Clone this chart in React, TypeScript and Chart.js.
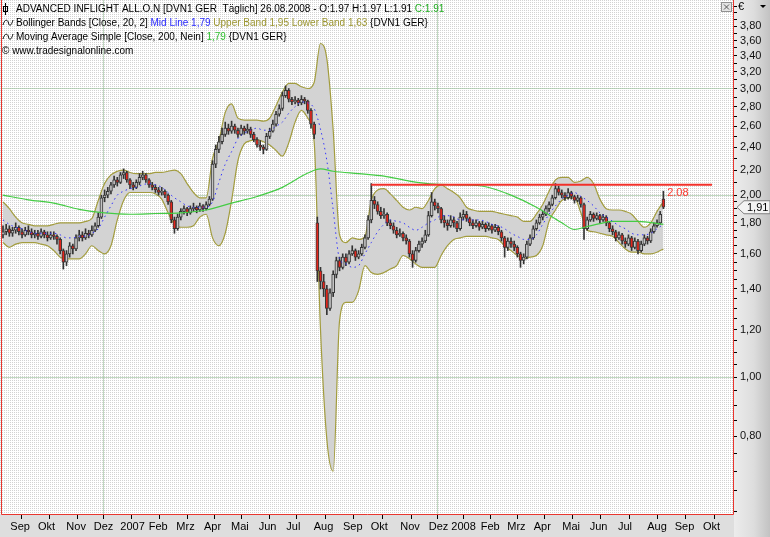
import React, { useEffect, useRef } from 'react';
import { Chart, registerables } from 'chart.js';

Chart.register(...registerables);

// ---------- DATA ----------
// Candles: two per week, x position in weeks since 28.08.2006 = index * 0.5
const candleOpen = [
  1.72, 1.74, 1.76, 1.73, 1.75, 1.77, 1.74, 1.72, 1.75, 1.74,
  1.72, 1.73, 1.71, 1.74, 1.72, 1.70, 1.72, 1.71, 1.69, 1.62,
  1.55, 1.60, 1.65, 1.63, 1.70, 1.72, 1.70, 1.73, 1.72, 1.75,
  1.78, 1.84, 1.98, 2.00, 2.03, 2.08, 2.12, 2.10, 2.16, 2.18,
  2.12, 2.08, 2.06, 2.10, 2.14, 2.16, 2.12, 2.08, 2.06, 2.04,
  2.02, 2.03, 2.00, 1.95, 1.82, 1.76, 1.84, 1.88, 1.90, 1.87,
  1.90, 1.91, 1.89, 1.92, 1.90, 1.93, 1.97, 2.25, 2.38, 2.45,
  2.52, 2.58, 2.55, 2.60, 2.56, 2.52, 2.58, 2.55, 2.57, 2.52,
  2.47, 2.42, 2.40, 2.38, 2.50, 2.55, 2.62, 2.72, 2.78, 2.92,
  2.98, 2.88, 2.85, 2.87, 2.84, 2.88, 2.86, 2.76, 2.62, 1.80,
  1.50, 1.44, 1.40, 1.30, 1.38, 1.48, 1.56, 1.52, 1.58, 1.55,
  1.60, 1.62, 1.58, 1.60, 1.64, 1.70, 1.82, 1.96, 1.93, 1.88,
  1.85, 1.86, 1.80, 1.78, 1.75, 1.72, 1.73, 1.70, 1.68, 1.60,
  1.56, 1.62, 1.66, 1.68, 1.72, 1.85, 1.95, 1.92, 1.90, 1.82,
  1.80, 1.78, 1.82, 1.80, 1.76, 1.84, 1.86, 1.83, 1.80, 1.78,
  1.80, 1.77, 1.79, 1.76, 1.78, 1.75, 1.77, 1.74, 1.70, 1.64,
  1.68, 1.66, 1.64, 1.60, 1.56, 1.58, 1.66, 1.70, 1.76, 1.80,
  1.84, 1.86, 1.90, 1.93, 1.98, 2.05, 2.02, 2.00, 1.98, 2.02,
  1.99, 1.96, 1.98, 1.93, 1.76, 1.82, 1.86, 1.83, 1.85, 1.82,
  1.84, 1.80, 1.76, 1.74, 1.70, 1.72, 1.68, 1.66, 1.70, 1.64,
  1.68, 1.62, 1.66, 1.70, 1.68, 1.74, 1.78, 1.80, 1.97,
];
const candleHigh = [
  1.78, 1.79, 1.78, 1.77, 1.80, 1.78, 1.76, 1.77, 1.78, 1.76,
  1.75, 1.75, 1.76, 1.75, 1.74, 1.74, 1.74, 1.72, 1.70, 1.63,
  1.62, 1.67, 1.66, 1.72, 1.75, 1.74, 1.76, 1.75, 1.78, 1.80,
  1.87, 2.00, 2.04, 2.06, 2.10, 2.15, 2.14, 2.18, 2.21, 2.19,
  2.13, 2.10, 2.12, 2.17, 2.19, 2.17, 2.13, 2.10, 2.08, 2.06,
  2.06, 2.04, 2.01, 1.96, 1.84, 1.86, 1.90, 1.92, 1.91, 1.92,
  1.94, 1.92, 1.94, 1.93, 1.95, 1.99, 2.28, 2.42, 2.50, 2.58,
  2.64, 2.62, 2.65, 2.62, 2.58, 2.61, 2.60, 2.62, 2.59, 2.54,
  2.49, 2.46, 2.42, 2.53, 2.58, 2.66, 2.75, 2.82, 2.96, 3.03,
  3.00, 2.90, 2.91, 2.89, 2.92, 2.90, 2.87, 2.78, 2.64, 1.84,
  1.52, 1.48, 1.42, 1.40, 1.50, 1.58, 1.58, 1.60, 1.60, 1.62,
  1.65, 1.63, 1.62, 1.66, 1.72, 1.85, 2.09, 1.99, 1.95, 1.91,
  1.90, 1.87, 1.82, 1.80, 1.77, 1.76, 1.74, 1.72, 1.69, 1.62,
  1.64, 1.68, 1.70, 1.75, 1.88, 2.02, 1.97, 1.94, 1.91, 1.85,
  1.82, 1.85, 1.84, 1.81, 1.87, 1.89, 1.88, 1.84, 1.82, 1.82,
  1.81, 1.81, 1.80, 1.80, 1.79, 1.79, 1.78, 1.75, 1.71, 1.70,
  1.70, 1.68, 1.65, 1.61, 1.60, 1.68, 1.72, 1.78, 1.82, 1.86,
  1.88, 1.92, 1.95, 2.00, 2.09, 2.07, 2.04, 2.02, 2.05, 2.03,
  2.00, 2.00, 1.99, 1.94, 1.84, 1.88, 1.87, 1.87, 1.86, 1.86,
  1.85, 1.81, 1.78, 1.75, 1.74, 1.73, 1.70, 1.72, 1.71, 1.70,
  1.69, 1.68, 1.72, 1.71, 1.76, 1.80, 1.82, 1.88, 2.03,
];
const candleLow = [
  1.70, 1.72, 1.71, 1.71, 1.73, 1.72, 1.70, 1.71, 1.72, 1.70,
  1.70, 1.69, 1.70, 1.70, 1.68, 1.69, 1.69, 1.66, 1.60, 1.51,
  1.53, 1.58, 1.60, 1.62, 1.68, 1.68, 1.69, 1.70, 1.71, 1.74,
  1.77, 1.83, 1.95, 1.98, 2.01, 2.06, 2.07, 2.09, 2.13, 2.10,
  2.05, 2.04, 2.05, 2.08, 2.12, 2.10, 2.06, 2.04, 2.02, 2.00,
  2.00, 1.98, 1.93, 1.80, 1.73, 1.75, 1.82, 1.86, 1.85, 1.86,
  1.88, 1.87, 1.88, 1.88, 1.89, 1.92, 1.96, 2.22, 2.35, 2.43,
  2.50, 2.52, 2.53, 2.53, 2.49, 2.51, 2.52, 2.53, 2.49, 2.45,
  2.40, 2.37, 2.34, 2.37, 2.48, 2.54, 2.60, 2.70, 2.76, 2.90,
  2.85, 2.82, 2.83, 2.81, 2.82, 2.83, 2.73, 2.58, 2.48, 1.44,
  1.40, 1.36, 1.27, 1.29, 1.36, 1.46, 1.50, 1.51, 1.53, 1.54,
  1.59, 1.56, 1.57, 1.59, 1.63, 1.69, 1.80, 1.90, 1.86, 1.83,
  1.83, 1.78, 1.76, 1.73, 1.70, 1.71, 1.68, 1.66, 1.58, 1.52,
  1.55, 1.61, 1.64, 1.67, 1.71, 1.84, 1.89, 1.87, 1.80, 1.77,
  1.75, 1.77, 1.77, 1.74, 1.75, 1.82, 1.81, 1.78, 1.76, 1.77,
  1.75, 1.76, 1.74, 1.75, 1.73, 1.74, 1.72, 1.68, 1.58, 1.62,
  1.64, 1.62, 1.58, 1.52, 1.54, 1.57, 1.65, 1.69, 1.75, 1.79,
  1.82, 1.85, 1.88, 1.92, 1.97, 2.00, 1.98, 1.96, 1.97, 1.97,
  1.94, 1.95, 1.91, 1.69, 1.75, 1.81, 1.81, 1.82, 1.80, 1.81,
  1.78, 1.74, 1.72, 1.68, 1.69, 1.66, 1.64, 1.65, 1.62, 1.63,
  1.60, 1.61, 1.65, 1.66, 1.67, 1.73, 1.77, 1.79, 1.90,
];
const candleClose = [
  1.74, 1.76, 1.73, 1.75, 1.77, 1.74, 1.72, 1.75, 1.74, 1.72,
  1.73, 1.71, 1.74, 1.72, 1.70, 1.72, 1.71, 1.69, 1.62, 1.55,
  1.60, 1.65, 1.63, 1.70, 1.72, 1.70, 1.73, 1.72, 1.75, 1.78,
  1.84, 1.98, 2.00, 2.03, 2.08, 2.12, 2.10, 2.16, 2.18, 2.12,
  2.08, 2.06, 2.10, 2.14, 2.16, 2.12, 2.08, 2.06, 2.04, 2.02,
  2.03, 2.00, 1.95, 1.82, 1.76, 1.84, 1.88, 1.90, 1.87, 1.90,
  1.91, 1.89, 1.92, 1.90, 1.93, 1.97, 2.25, 2.38, 2.45, 2.52,
  2.58, 2.55, 2.60, 2.56, 2.52, 2.58, 2.55, 2.57, 2.52, 2.47,
  2.42, 2.40, 2.38, 2.50, 2.55, 2.62, 2.72, 2.78, 2.92, 2.98,
  2.88, 2.85, 2.87, 2.84, 2.88, 2.86, 2.76, 2.62, 2.52, 1.50,
  1.44, 1.40, 1.30, 1.38, 1.48, 1.56, 1.52, 1.58, 1.55, 1.60,
  1.62, 1.58, 1.60, 1.64, 1.70, 1.82, 1.96, 1.93, 1.88, 1.85,
  1.86, 1.80, 1.78, 1.75, 1.72, 1.73, 1.70, 1.68, 1.60, 1.56,
  1.62, 1.66, 1.68, 1.72, 1.85, 1.95, 1.92, 1.90, 1.82, 1.80,
  1.78, 1.82, 1.80, 1.76, 1.84, 1.86, 1.83, 1.80, 1.78, 1.80,
  1.77, 1.79, 1.76, 1.78, 1.75, 1.77, 1.74, 1.70, 1.64, 1.68,
  1.66, 1.64, 1.60, 1.56, 1.58, 1.66, 1.70, 1.76, 1.80, 1.84,
  1.86, 1.90, 1.93, 1.98, 2.05, 2.02, 2.00, 1.98, 2.02, 1.99,
  1.96, 1.98, 1.93, 1.76, 1.82, 1.86, 1.83, 1.85, 1.82, 1.84,
  1.80, 1.76, 1.74, 1.70, 1.72, 1.68, 1.66, 1.70, 1.64, 1.68,
  1.62, 1.66, 1.70, 1.68, 1.74, 1.78, 1.80, 1.86, 1.91,
];

// Bollinger bands (20, 2), one value per week (x = week index)
const bbUpper = [
  1.95, 1.90, 1.84, 1.80, 1.79, 1.78, 1.78, 1.78, 1.79, 1.80,
  1.80, 1.80, 1.80, 1.81, 1.83, 1.96, 2.09, 2.16, 2.19, 2.20,
  2.18, 2.17, 2.17, 2.17, 2.18, 2.18, 2.19, 2.20, 2.17, 2.09,
  2.02, 1.98, 1.98, 2.30, 2.46, 2.74, 2.83, 2.68, 2.66, 2.66,
  2.66, 2.65, 2.68, 2.81, 2.96, 3.06, 3.06, 3.02, 3.00, 3.07,
  3.56, 3.36, 2.56, 1.72, 1.67, 1.70, 1.69, 1.71, 1.96, 2.04,
  2.05, 2.01, 1.96, 1.91, 1.89, 1.91, 1.90, 1.96, 2.05, 2.08,
  2.05, 2.02, 1.98, 1.91, 1.89, 1.88, 1.88, 1.88, 1.87, 1.86,
  1.85, 1.84, 1.81, 1.81, 1.86, 1.93, 2.03, 2.12, 2.14, 2.14,
  2.10, 2.11, 2.14, 2.09, 1.97, 1.90, 1.89, 1.89, 1.88, 1.86,
  1.81, 1.77, 1.80, 1.88, 1.95,
];
const bbLower = [
  1.67, 1.64, 1.66, 1.67, 1.67, 1.67, 1.66, 1.65, 1.62, 1.58,
  1.57, 1.57, 1.57, 1.60, 1.65, 1.62, 1.60, 1.65, 1.82, 1.96,
  2.02, 2.02, 2.02, 2.02, 2.01, 1.97, 1.87, 1.79, 1.77, 1.77,
  1.78, 1.84, 1.86, 1.70, 1.65, 1.73, 1.96, 2.28, 2.43, 2.46,
  2.47, 2.45, 2.42, 2.37, 2.32, 2.44, 2.64, 2.76, 2.68, 2.45,
  1.20, 0.79, 0.70, 1.24, 1.33, 1.33, 1.39, 1.53, 1.49, 1.48,
  1.49, 1.51, 1.53, 1.59, 1.57, 1.54, 1.52, 1.52, 1.52, 1.59,
  1.65, 1.69, 1.70, 1.71, 1.71, 1.71, 1.71, 1.70, 1.69, 1.65,
  1.62, 1.59, 1.57, 1.58, 1.59, 1.65, 1.81, 1.89, 1.96, 1.98,
  1.98, 1.87, 1.75, 1.74, 1.73, 1.72, 1.71, 1.67, 1.63, 1.61,
  1.61, 1.60, 1.60, 1.61, 1.63,
];
const bbMid = [
  1.82, 1.79, 1.77, 1.76, 1.74, 1.73, 1.73, 1.73, 1.73, 1.72,
  1.70, 1.70, 1.71, 1.71, 1.73, 1.76, 1.84, 1.92, 2.00, 2.03,
  2.05, 2.06, 2.08, 2.09, 2.08, 2.06, 2.02, 1.98, 1.95, 1.92,
  1.91, 1.91, 1.91, 1.95, 2.10, 2.25, 2.36, 2.48, 2.53, 2.56,
  2.58, 2.56, 2.56, 2.60, 2.64, 2.73, 2.80, 2.85, 2.84, 2.78,
  2.57, 2.28, 1.89, 1.57, 1.54, 1.52, 1.53, 1.60, 1.67, 1.74,
  1.79, 1.82, 1.81, 1.80, 1.77, 1.75, 1.77, 1.80, 1.82, 1.85,
  1.85, 1.84, 1.82, 1.82, 1.82, 1.82, 1.81, 1.79, 1.78, 1.76,
  1.73, 1.71, 1.69, 1.69, 1.72, 1.79, 1.86, 1.92, 1.97, 2.00,
  2.02, 1.99, 1.96, 1.92, 1.87, 1.84, 1.81, 1.78, 1.76, 1.73,
  1.72, 1.72, 1.73, 1.76, 1.79,
];

// Moving Average Simple (200), read at these week indices
const maWeeks = [0, 4, 8, 12, 16, 20, 24, 28, 32, 36, 40, 44, 48, 50, 52, 56, 60, 64, 68, 72, 76, 80, 84, 88, 90, 92, 94, 96, 100, 104];
const maValues = [2.00, 1.965, 1.94, 1.895, 1.87, 1.86, 1.865, 1.87, 1.89, 1.94, 1.99, 2.06, 2.175, 2.21, 2.19, 2.17, 2.15, 2.11, 2.085, 2.08, 2.065, 2.00, 1.91, 1.80, 1.755, 1.775, 1.795, 1.81, 1.81, 1.79];

// Horizontal resistance line
const resistanceLevel = 2.08;
const resistanceFromWeek = 58.0;
const resistanceToWeek = 111.65;
const lastClose = 1.91;

// X axis: month ticks (positions in weeks) and labels
const monthTickWeeks = [0.68, 5.04, 9.5, 13.81, 18.0, 22.47, 26.82, 31.18, 35.43, 39.8, 44.14, 48.46, 53.07, 57.43, 62.09, 66.57, 70.13, 74.76, 78.94, 83.1, 87.61, 91.92, 96.38, 100.99, 105.31, 109.76];
const monthLabels = ['Sep', 'Okt', 'Nov', 'Dez', '2007', 'Feb', 'Mrz', 'Apr', 'Mai', 'Jun', 'Jul', 'Aug', 'Sep', 'Okt', 'Nov', 'Dez', '2008', 'Feb', 'Mrz', 'Apr', 'Mai', 'Jun', 'Jul', 'Aug', 'Sep', 'Okt'];

// Y axis: labelled ticks and minor ticks
const yLabelTicks = [0.8, 1.0, 1.2, 1.4, 1.6, 1.8, 2.0, 2.2, 2.4, 2.6, 2.8, 3.0, 3.2, 3.4, 3.6, 3.8];
const yMinorTicks = [0.6, 0.65, 0.7, 0.75, 0.85, 0.9, 0.95, 1.05, 1.1, 1.15, 1.25, 1.3, 1.35, 1.45, 1.5, 1.55, 1.65, 1.7, 1.75, 1.85, 1.9, 1.95, 2.1, 2.3, 2.5, 2.7, 2.9, 3.1, 3.3, 3.5, 3.7, 3.9, 4.0, 4.1];
const yGridValues = [1.0, 2.0, 3.0];

// ---------- STYLE ----------
const FONT = "'Liberation Sans', Arial, sans-serif";
const GRID = 'rgba(150,190,150,0.6)';
const OLIVE = '#a29c3e';

let bgPattern: CanvasPattern | null = null;
function getPattern(ctx: CanvasRenderingContext2D) {
  if (!bgPattern) {
    const c = document.createElement('canvas');
    c.width = 2; c.height = 2;
    const p = c.getContext('2d')!;
    p.fillStyle = '#ffffff'; p.fillRect(0, 0, 2, 2);
    p.fillStyle = '#d2d2d2'; p.fillRect(0, 0, 1, 1);
    bgPattern = ctx.createPattern(c, 'repeat');
  }
  return bgPattern!;
}

function drawSegments(ctx: CanvasRenderingContext2D, x: number, y: number, segs: [string, string][]) {
  for (const [t, c] of segs) {
    ctx.fillStyle = c;
    ctx.fillText(t, x, y);
    x += ctx.measureText(t).width;
  }
}

const decorPlugin = {
  id: 'decor',
  beforeDraw(chart: any) {
    const { ctx, chartArea: a, width, height } = chart;
    ctx.save();
    ctx.fillStyle = getPattern(ctx);
    ctx.fillRect(0, 0, a.right, a.bottom);
    const g = ctx.createLinearGradient(a.right, 0, width, 0);
    g.addColorStop(0, '#ececec');
    g.addColorStop(0.55, '#dddddd');
    g.addColorStop(1, '#c2c2c2');
    ctx.fillStyle = g;
    ctx.fillRect(a.right, 0, width - a.right, height);
    ctx.fillStyle = '#dedede';
    ctx.fillRect(0, a.bottom, a.right, height - a.bottom);
    ctx.restore();
  },
  afterDraw(chart: any) {
    const { ctx, chartArea: a, width, scales } = chart;
    const xs = scales.x, ys = scales.y;
    ctx.save();
    // red frame
    ctx.strokeStyle = '#e8352e';
    ctx.lineWidth = 1;
    ctx.beginPath();
    ctx.moveTo(a.left - 0.5, 0);
    ctx.lineTo(a.left - 0.5, a.bottom + 0.5);
    ctx.lineTo(a.right - 0.5, a.bottom + 0.5);
    ctx.lineTo(a.right - 0.5, 0);
    ctx.stroke();

    // header
    ctx.font = `10px ${FONT}`;
    ctx.textBaseline = 'middle';
    ctx.textAlign = 'left';
    // symbol icon
    ctx.strokeStyle = '#000';
    ctx.beginPath();
    ctx.moveTo(5.5, 3); ctx.lineTo(5.5, 15);
    ctx.stroke();
    ctx.strokeRect(3.5, 6.5, 4, 5);
    drawSegments(ctx, 16, 9, [
      ['ADVANCED INFLIGHT ALL.O.N [DVN1 GER  Täglich] 26.08.2008 - O:1.97 H:1.97 L:1.91 ', '#000'],
      ['C:1.91', '#22b022'],
    ]);
    // wave icons
    for (const yy of [23, 37]) {
      ctx.beginPath();
      ctx.moveTo(3, yy + 2);
      ctx.bezierCurveTo(5, yy - 5, 8, yy - 3, 8.5, yy);
      ctx.bezierCurveTo(9, yy + 3, 11, yy + 4, 13, yy - 3);
      ctx.strokeStyle = '#000';
      ctx.stroke();
    }
    drawSegments(ctx, 16, 23, [
      ['Bollinger Bands [Close, 20, 2] ', '#000'],
      ['Mid Line 1,79 ', '#2a2aff'],
      ['Upper Band 1,95 Lower Band 1,63 ', '#9c9630'],
      ['{DVN1 GER}', '#000'],
    ]);
    drawSegments(ctx, 16, 37, [
      ['Moving Average Simple [Close, 200, Nein] ', '#000'],
      ['1,79', '#30c030'],
      [' {DVN1 GER}', '#000'],
    ]);
    drawSegments(ctx, 2, 51, [['© www.tradesignalonline.com', '#000']]);

    // resistance label
    ctx.font = `11px ${FONT}`;
    ctx.fillStyle = '#ff3a30';
    ctx.fillText(resistanceLevel.toFixed(2), xs.getPixelForValue(104.6), ys.getPixelForValue(resistanceLevel) + 8);

    // close box top right
    ctx.fillStyle = '#e4e4e4';
    ctx.fillRect(a.right - 13, 2, 11, 10);
    ctx.strokeStyle = '#909090';
    ctx.strokeRect(a.right - 12.5, 2.5, 10, 9);
    ctx.strokeStyle = '#555';
    ctx.beginPath();
    ctx.moveTo(a.right - 10, 4.5); ctx.lineTo(a.right - 5, 9.5);
    ctx.moveTo(a.right - 5, 4.5); ctx.lineTo(a.right - 10, 9.5);
    ctx.stroke();

    // currency + dropdown
    ctx.fillStyle = '#000';
    ctx.font = `11px ${FONT}`;
    ctx.fillText('€', a.right + 4, 7);
    ctx.beginPath();
    ctx.moveTo(width - 10, 5); ctx.lineTo(width - 4, 5); ctx.lineTo(width - 7, 8); ctx.closePath();
    ctx.fill();

    // last price marker
    const py = ys.getPixelForValue(lastClose);
    ctx.beginPath();
    ctx.moveTo(a.right + 3, py);
    ctx.lineTo(a.right + 10, py - 6.5);
    ctx.lineTo(width, py - 6.5);
    ctx.lineTo(width, py + 6.5);
    ctx.lineTo(a.right + 10, py + 6.5);
    ctx.closePath();
    ctx.fillStyle = '#f4f4f4';
    ctx.fill();
    ctx.strokeStyle = '#808080';
    ctx.stroke();
    ctx.fillStyle = '#000';
    ctx.fillText(lastClose.toFixed(2).replace('.', ','), a.right + 13, py + 0.5);
    ctx.restore();
  },
};

export default function App() {
  const ref = useRef<HTMLCanvasElement>(null);
  useEffect(() => {
    const wickData = candleHigh.map((h, j) => ({ x: j * 0.5, y: [candleLow[j], h] }));
    const bodyData = candleOpen.map((o, j) => ({
      x: j * 0.5,
      y: [Math.min(o, candleClose[j]), Math.max(o, candleClose[j])],
    }));
    const bodyColors = candleOpen.map((o, j) => (candleClose[j] < o ? '#e4261c' : '#c4c4c4'));

    const chart = new Chart(ref.current!, {
      type: 'bar',
      data: {
        datasets: [
          {
            type: 'line',
            label: 'Upper Band',
            data: bbUpper.map((v, i) => ({ x: i, y: v })),
            borderColor: OLIVE,
            borderWidth: 1.2,
            backgroundColor: '#d3d3d3',
            fill: '+1',
            pointRadius: 0,
            cubicInterpolationMode: 'monotone',
            order: 10,
          },
          {
            type: 'line',
            label: 'Lower Band',
            data: bbLower.map((v, i) => ({ x: i, y: v })),
            borderColor: OLIVE,
            borderWidth: 1.2,
            fill: false,
            pointRadius: 0,
            cubicInterpolationMode: 'monotone',
            order: 9,
          },
          {
            type: 'bar',
            label: 'Wick',
            data: wickData as any,
            backgroundColor: '#333333',
            barThickness: 1,
            grouped: false,
            order: 6,
          },
          {
            type: 'bar',
            label: 'Body',
            data: bodyData as any,
            backgroundColor: bodyColors,
            borderColor: '#383838',
            borderWidth: 1,
            borderSkipped: false,
            barThickness: 3,
            grouped: false,
            order: 5,
          },
          {
            type: 'line',
            label: 'MA 200',
            data: maWeeks.map((w, k) => ({ x: w, y: maValues[k] })),
            borderColor: '#44cc44',
            borderWidth: 1.2,
            pointRadius: 0,
            cubicInterpolationMode: 'monotone',
            fill: false,
            order: 4,
          },
          {
            type: 'line',
            label: 'Mid Line',
            data: bbMid.map((v, i) => ({ x: i, y: v })),
            borderColor: '#3434ff',
            borderWidth: 1,
            borderDash: [1.5, 3.5],
            pointRadius: 0,
            cubicInterpolationMode: 'monotone',
            fill: false,
            order: 3,
          },
          {
            type: 'line',
            label: 'Resistance',
            data: [
              { x: resistanceFromWeek, y: resistanceLevel },
              { x: resistanceToWeek, y: resistanceLevel },
            ],
            borderColor: '#f2302a',
            borderWidth: 2,
            pointRadius: 0,
            fill: false,
            order: 1,
          },
        ] as any,
      },
      options: {
        animation: false,
        responsive: false,
        devicePixelRatio: 1,
        events: [],
        layout: { padding: { left: 2, top: 0, right: 0, bottom: 0 }, autoPadding: false } as any,
        plugins: { legend: { display: false }, tooltip: { enabled: false } },
        scales: {
          x: {
            type: 'linear',
            min: -0.157,
            max: 115.12,
            offset: false,
            afterBuildTicks: (axis: any) => {
              axis.ticks = monthTickWeeks.map((v) => ({ value: v }));
            },
            afterFit: (axis: any) => {
              axis.height = 23;
              axis.paddingLeft = 0;
              axis.paddingRight = 0;
            },
            ticks: {
              autoSkip: false,
              maxRotation: 0,
              minRotation: 0,
              align: 'start',
              labelOffset: 3,
              padding: 1,
              color: '#000',
              font: { family: FONT, size: 11 },
              callback: (_v: any, i: number) => monthLabels[i],
            },
            grid: {
              color: (c: any) => (c.tick && (c.index === 4 || c.index === 16) ? GRID : 'transparent'),
              tickColor: '#000',
              tickLength: 5,
              lineWidth: 1,
            },
            border: { display: false },
          },
          y: {
            type: 'logarithmic',
            position: 'right',
            beginAtZero: false,
            min: 0.595,
            max: 4.2,
            afterBuildTicks: (axis: any) => {
              const all = [...yLabelTicks, ...yMinorTicks].sort((p, q) => p - q);
              axis.ticks = all.map((v) => ({ value: v }));
            },
            afterFit: (axis: any) => {
              axis.width = 36;
              axis.paddingTop = 0;
              axis.paddingBottom = 0;
            },
            ticks: {
              autoSkip: false,
              padding: 3,
              color: '#101010',
              font: { family: FONT, size: 11 },
              callback: (v: any) => {
                const n = Number(v);
                return yLabelTicks.some((t) => Math.abs(t - n) < 1e-6) ? n.toFixed(2).replace('.', ',') : '';
              },
            },
            grid: {
              color: (c: any) =>
                c.tick && yGridValues.some((t) => Math.abs(t - c.tick.value) < 1e-6) ? GRID : 'transparent',
              tickColor: '#000',
              tickLength: 3,
              lineWidth: 1,
            },
            border: { display: false },
          },
        },
      } as any,
      plugins: [decorPlugin],
    });
    return () => chart.destroy();
  }, []);

  return (
    <div style={{ position: 'absolute', left: 0, top: 0, width: 770, height: 537 }}>
      <canvas ref={ref} width={770} height={537} style={{ display: 'block' }} />
    </div>
  );
}
